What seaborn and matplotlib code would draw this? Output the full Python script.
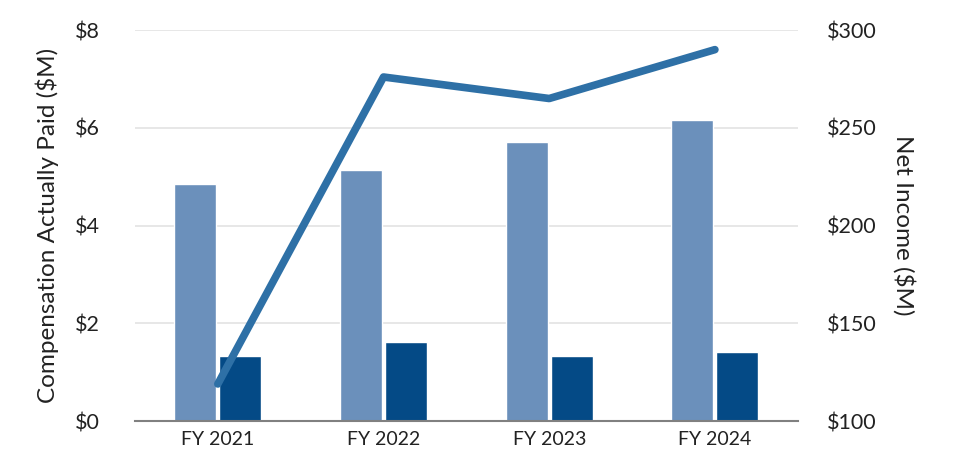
import numpy as np
import pandas as pd
import matplotlib
matplotlib.use("Agg")
import matplotlib.pyplot as plt
import seaborn as sns

years = ["FY 2021", "FY 2022", "FY 2023", "FY 2024"]
peo_cap = [4.86, 5.14, 5.72, 6.17]
neo_cap = [1.33, 1.62, 1.33, 1.41]
net_income = [119, 276, 265, 290]

sns.set_style("white")
plt.rcParams['font.family'] = ['Lato', 'DejaVu Sans']

df = pd.DataFrame({
    "year": years * 2,
    "value": peo_cap + neo_cap,
    "series": ["PEO"] * len(years) + ["NEO"] * len(years),
})

fig, ax = plt.subplots(figsize=(9.6, 4.7), dpi=100)
fig.subplots_adjust(left=0.1406, right=0.831, top=0.936, bottom=0.104)

sns.barplot(data=df, x="year", y="value", hue="series",
            palette=["#6b90bb", "#044a86"], width=0.545, gap=0.07,
            saturation=1, legend=False, ax=ax)

ax.set_ylim(0, 8)
ax.set_yticks([0, 2, 4, 6, 8])
ax.set_yticklabels([f"${v}" for v in [0, 2, 4, 6, 8]], fontsize=15.5, color="#222222")
ax.set_xlim(-0.5, 3.5)
ax.tick_params(axis="x", labelsize=14, colors="#222222", length=0, pad=7)
ax.tick_params(axis="y", length=0, pad=25)
ax.set_xlabel("")
ax.set_ylabel("Compensation Actually Paid ($M)", fontsize=17.5, color="#222222", labelpad=12)
ax.yaxis.grid(True, color="#e3e3e3", linewidth=1.2)
ax.set_axisbelow(True)
for s in ["top", "right", "left"]:
    ax.spines[s].set_visible(False)
ax.spines["bottom"].set_color("#808080")
ax.spines["bottom"].set_linewidth(1.5)

ax2 = ax.twinx()
sns.lineplot(x=np.arange(len(years)), y=net_income, color="#2e70a6",
             linewidth=5.5, ax=ax2)
ax2.set_ylim(100, 300)
ax2.set_yticks([100, 150, 200, 250, 300])
ax2.set_yticklabels([f"${v}" for v in [100, 150, 200, 250, 300]], fontsize=15.5, color="#222222")
ax2.tick_params(axis="y", length=0, pad=21)
ax2.set_ylabel("Net Income ($M)", fontsize=17.5, color="#222222", rotation=270, labelpad=28)
for s in ["top", "right", "left", "bottom"]:
    ax2.spines[s].set_visible(False)
ax2.set_xlim(-0.5, 3.5)

fig.savefig("out.png", dpi=100)
